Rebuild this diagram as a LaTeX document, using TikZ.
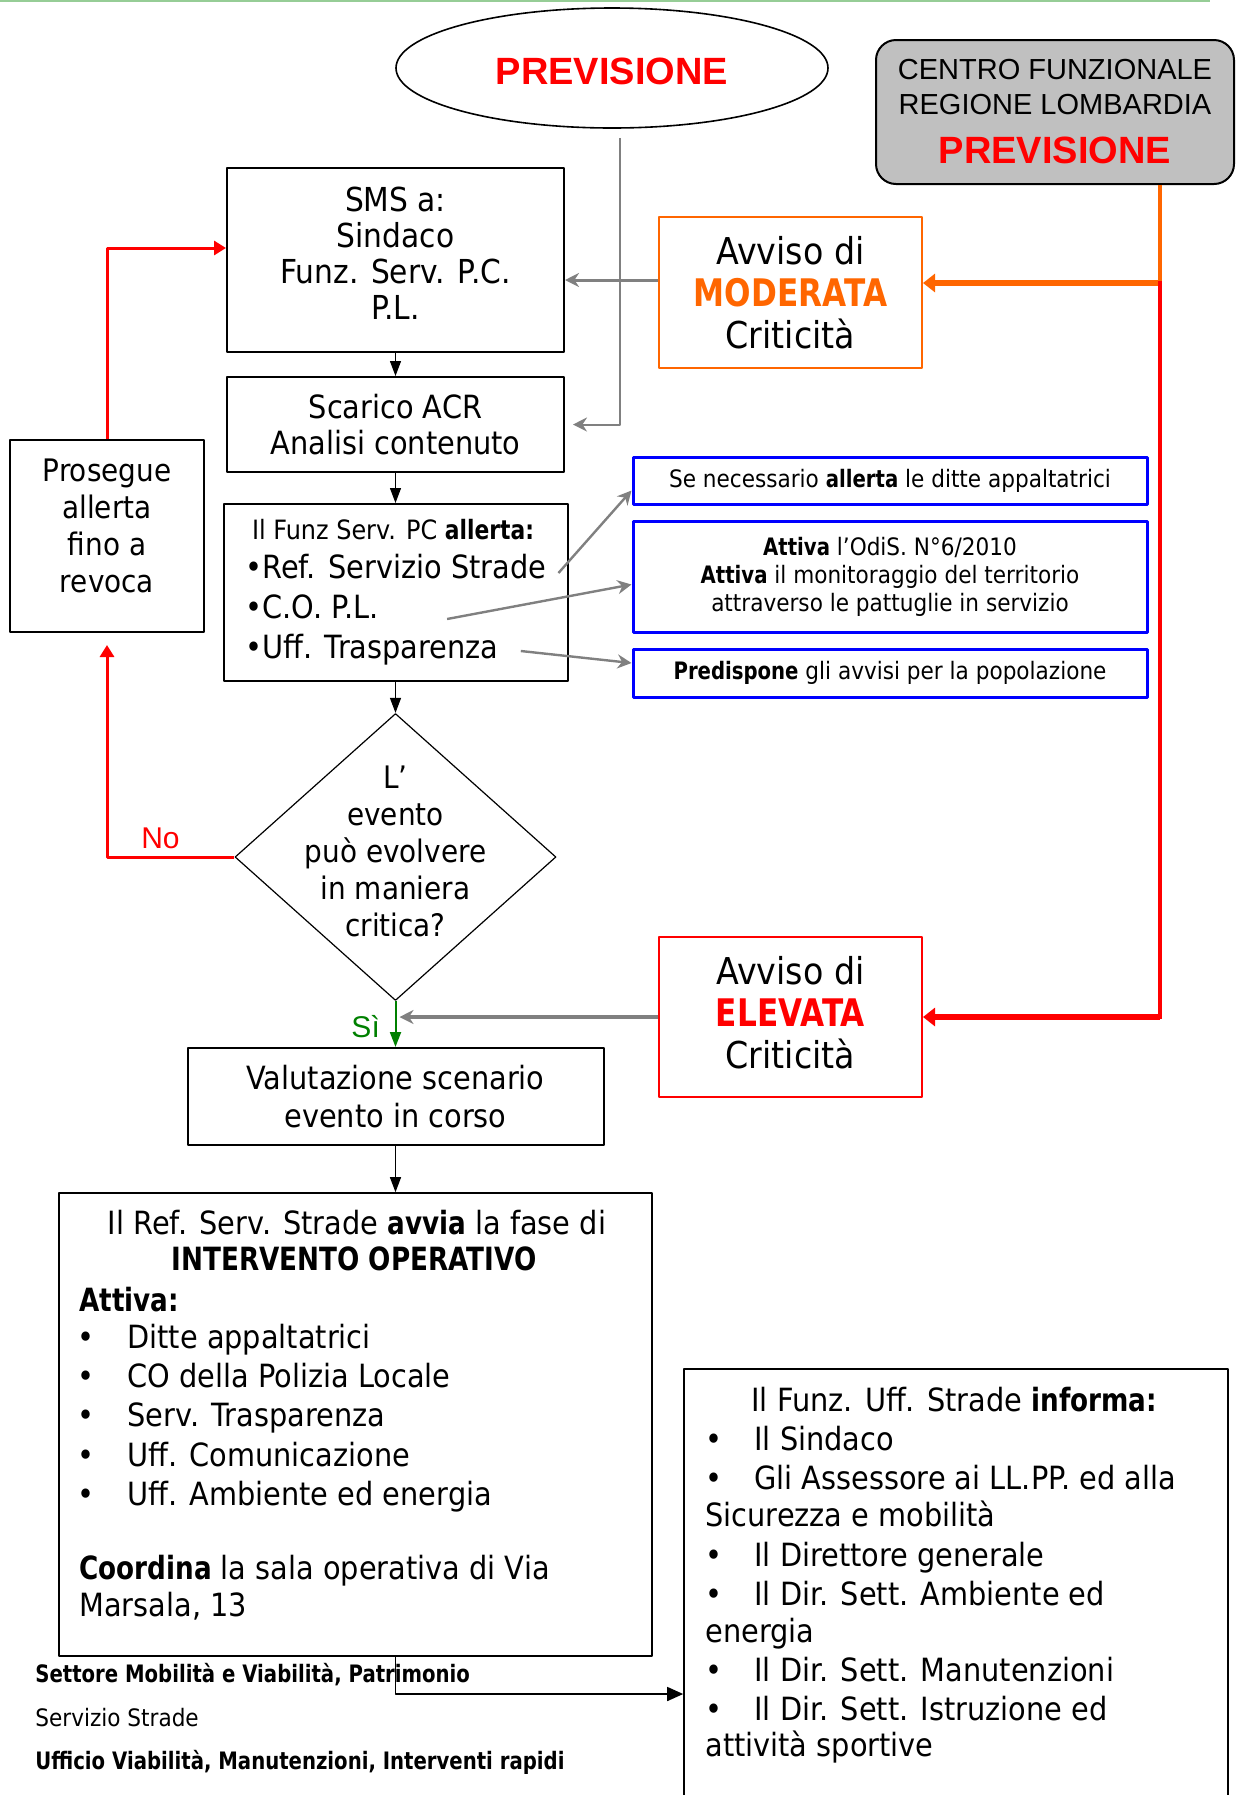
\documentclass[tikz,border=0pt]{standalone}
\usepackage{fontspec}
\setmainfont{DejaVu Sans}[FakeStretch=0.9,BoldFeatures={FakeStretch=0.82}]
\newfontfamily\arialfont{Liberation Sans}
\usetikzlibrary{shapes.geometric,arrows.meta,positioning}
\definecolor{grigio}{RGB}{128,128,128}
\definecolor{grigiobox}{RGB}{192,192,192}
\definecolor{arancio}{RGB}{255,102,0}
\definecolor{rosso}{RGB}{255,0,0}
\definecolor{blu}{RGB}{0,0,255}
\definecolor{verde}{RGB}{0,128,0}
\definecolor{verdino}{RGB}{150,205,150}

\begin{document}
\begin{tikzpicture}[x=0.5pt,y=-0.5pt,>={Triangle[length=7.5pt,width=5.5pt]},line join=round,
    box/.style={draw,line width=1pt,inner sep=0pt,align=center,font=\fontsize{16}{18}\selectfont},
    avviso/.style={box,minimum width=131.5pt,font=\fontsize{18.5}{21}\selectfont},
    blubox/.style={draw=blu,line width=1.5pt,inner sep=0pt,align=center,minimum width=257pt,font=\fontsize{12}{14}\selectfont},
    testo/.style={anchor=mid west,inner sep=0pt,yshift=-3pt,font=\fontsize{16}{19}\selectfont},
    piede/.style={anchor=mid west,inner sep=0pt,yshift=-1.75pt,font=\fontsize{12}{14}\selectfont},
    freccia/.style={->,line width=0.6pt},
    grigia/.style={-{Stealth[length=7pt,width=7pt]},draw=grigio,line width=1.2pt},
    rossa/.style={-{Triangle[length=6pt,width=7pt]},draw=rosso,line width=1.5pt},
    grossa/.style={-{Triangle[length=6pt,width=9pt]},line width=3pt}]
  \useasboundingbox (0,0) rectangle (1239,1795);
  \draw[verdino,line width=1.2pt] (0,1) -- (1210,1);

  % previsione
  \node[ellipse,draw,line width=0.8pt,minimum width=216pt,minimum height=60pt,inner sep=0pt,text height=17pt,
        font=\arialfont\bfseries\fontsize{19}{22}\selectfont,text=rosso] (prev) at (612,68) {PREVISIONE};
  \node[draw,fill=grigiobox,rounded corners=10pt,line width=1pt,minimum width=179pt,minimum height=72pt,
        inner sep=0pt,align=center,font=\arialfont\fontsize{14.5}{17.5}\selectfont] (cfr) at (1055,112)
        {CENTRO FUNZIONALE\\REGIONE LOMBARDIA\\[7pt]{\bfseries\fontsize{19}{22}\selectfont\color{rosso}PREVISIONE}};

  % colonna centrale
  \node[box,minimum width=168.5pt,minimum height=92pt,text depth=7pt,font=\fontsize{16.5}{18}\selectfont] (sms) at (395.5,260) {SMS a:\\Sindaco\\Funz. Serv. P.C.\\P.L.};
  \node[box,minimum width=168.5pt,minimum height=47.5pt] (acr) at (395.5,424.5) {Scarico ACR\\Analisi contenuto};
  \node[box,minimum width=172pt,minimum height=88.5pt] (funz) at (395.5,592.5) {};
  \node[anchor=mid,inner sep=0pt,yshift=-1.2pt,font=\fontsize{13.3}{16}\selectfont] (ftit) at (393,532) {Il Funz Serv. PC \textbf{allerta:}};
  \node[testo] (f1) at (245,567) {•Ref. Servizio Strade};
  \node[testo] (f2) at (245,607) {•C.O. P.L.};
  \node[testo] (f3) at (245,647) {•Uff. Trasparenza};
  \node[diamond,draw,line width=0.6pt,minimum width=160.5pt,minimum height=143.5pt,inner sep=0pt,
        label={[align=center,text depth=6pt,font=\fontsize{15.5}{18.5}\selectfont]center:{L’\\evento\\può evolvere\\in maniera\\critica?}}] (dia) at (395.5,857) {};
  \node[box,minimum width=208pt,minimum height=48.5pt,font=\fontsize{16}{19}\selectfont] (val) at (395.5,1096.5) {Valutazione scenario\\evento in corso};
  \node[box,minimum width=97pt,minimum height=96pt,text depth=10pt,font=\fontsize{15.5}{18.5}\selectfont] (pros) at (107,536) {Prosegue\\allerta\\fino a\\revoca};

  % avvisi
  \node[avviso,draw=arancio,minimum height=75.5pt] (mod) at (790.5,292.5) {Avviso di\\{\bfseries\fontsize{19}{21}\selectfont\color{arancio}MODERATA}\\Criticità};
  \node[avviso,draw=rosso,minimum height=80pt,text depth=5pt] (ele) at (790.5,1017) {Avviso di\\{\bfseries\fontsize{19}{21}\selectfont\color{rosso}ELEVATA}\\Criticità};
  \node[blubox,minimum height=23.5pt] (b1) at (890,480.5) {Se necessario \textbf{allerta} le ditte appaltatrici};
  \node[blubox,minimum height=55.5pt] (b2) at (890,576.5) {\textbf{Attiva} l’OdiS. N°6/2010\\\textbf{Attiva} il monitoraggio del territorio\\attraverso le pattuglie in servizio};
  \node[blubox,minimum height=24pt] (b3) at (890,673) {\textbf{Predispone} gli avvisi per la popolazione};

  % intervento operativo
  \node[draw,line width=0.8pt,minimum width=296.5pt,minimum height=231.5pt] (ref) at (355.5,1424.5) {};
  \node[anchor=mid,inner sep=0pt,yshift=-3pt,font=\fontsize{16}{19}\selectfont] (rt1) at (357,1223) {Il Ref. Serv. Strade \textbf{avvia} la fase di};
  \node[anchor=mid,inner sep=0pt,yshift=-3.5pt,font=\fontsize{16}{19}\selectfont\bfseries] (rt2) at (354,1258) {INTERVENTO OPERATIVO};
  \node[testo] (rt3) at (79,1300) {\textbf{Attiva:}};
  \foreach \voce/\yy [count=\i] in {Ditte appaltatrici/1337,CO della Polizia Locale/1376,Serv. Trasparenza/1415,
      Uff. Comunicazione/1455,Uff. Ambiente ed energia/1494}{
    \node[testo] (rp\i) at (77,\yy) {•};
    \node[testo] (rv\i) at (127,\yy) {\voce};
  }
  \node[testo] (rc1) at (79,1568) {\textbf{Coordina} la sala operativa di Via};
  \node[testo] (rc2) at (79,1605) {Marsala, 13};

  % informa
  \node[draw,line width=0.8pt,minimum width=272pt,minimum height=240.5pt] (inf) at (956,1609.5) {};
  \node[testo] (it) at (751,1400) {Il Funz. Uff. Strade \textbf{informa:}};
  \foreach \voce/\yy [count=\i] in {Il Sindaco/1439,Gli Assessore ai LL.PP. ed alla/1478,Il Direttore generale/1555,
      Il Dir. Sett. Ambiente ed/1594,Il Dir. Sett. Manutenzioni/1670,Il Dir. Sett. Istruzione ed/1709}{
    \node[testo] (ip\i) at (705,\yy) {•};
    \node[testo] (iv\i) at (754,\yy) {\voce};
  }
  \node[testo] (ic1) at (705,1515) {Sicurezza e mobilità};
  \node[testo] (ic2) at (705,1631) {energia};
  \node[testo] (ic3) at (705,1745) {attività sportive};

  % intestazione
  \node[piede] (p1) at (35,1674) {\textbf{Settore Mobilità e Viabilità, Patrimonio}};
  \node[piede] (p2) at (35,1718) {Servizio Strade};
  \node[piede] (p3) at (35,1761) {\textbf{Ufficio Viabilità, Manutenzioni, Interventi rapidi}};

  % collegamenti
  \draw[freccia] (sms) -- (acr);
  \draw[freccia] (acr) -- (funz);
  \draw[freccia] (funz) -- (dia);
  \draw[freccia,verde,line width=1pt] (dia) -- (val) node[pos=0.55,left,xshift=-4pt,text=verde,font=\arialfont\fontsize{15}{18}\selectfont] {Sì};
  \draw[freccia] (val) -- (val.south |- ref.north);
  \coordinate (gomito) at (val.south |- 0,1694);
  \draw[-{Triangle[length=8pt,width=7pt]},line width=0.8pt] (val.south |- ref.south) -- (gomito) -- (gomito -| inf.west);

  \draw[grigia,line width=1.5pt] (mod.west |- 0,280) -- (sms.east |- 0,280);
  \draw[grigia,line width=1pt] ([xshift=4pt,yshift=-4.5pt]prev.south) |- ([xshift=4pt]acr.east);
  \draw[grigia,line width=2pt,shorten >=2pt] (ele.west) -- (ele.west -| dia.south);
  \draw[grigia] ([xshift=6pt]f1.mid east) -- ([yshift=-5pt]b1.west);
  \draw[grigia] ([xshift=34pt,yshift=-3pt]f2.mid east) -- ([yshift=-4pt]b2.west);
  \draw[grigia] ([xshift=11pt,yshift=1pt]f3.mid east) -- ([yshift=5pt]b3.west);

  \coordinate (snodo) at (1160,283);
  \draw[arancio,line width=2pt] (cfr.south -| snodo) -- (snodo);
  \draw[arancio,grossa] (snodo) -- (snodo -| mod.east);
  \draw[rosso,line width=2pt,line cap=rect] (snodo) -- (snodo |- ele.east);
  \draw[rosso,grossa] (snodo |- ele.east) -- (ele.east);

  \draw[rossa] (dia.west) -| node[pos=0.29,above,text=rosso,font=\arialfont\fontsize{15}{18}\selectfont] {No} ([yshift=-6pt]pros.south);
  \draw[rossa] (pros.north) |- ([yshift=6pt]sms.west);
\end{tikzpicture}
\end{document}
